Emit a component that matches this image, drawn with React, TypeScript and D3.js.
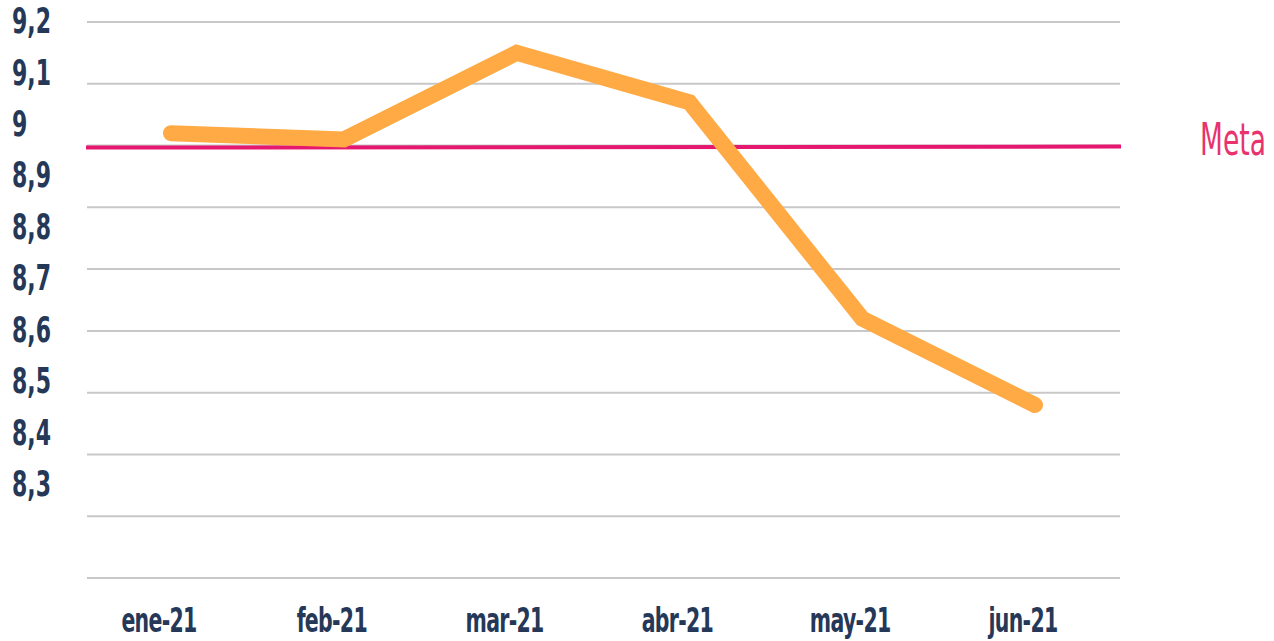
import React from "react"
import * as d3 from "d3"

// months on the x axis
const months = ["ene-21", "feb-21", "mar-21", "abr-21", "may-21", "jun-21"]
// monthly values
const values = [9.02, 9.01, 9.15, 9.07, 8.72, 8.58]
// target value
const meta = 9.0
// y tick labels, top to bottom
const yTickValues = [9.2, 9.1, 9.0, 8.9, 8.8, 8.7, 8.6, 8.5, 8.4, 8.3]
const yTickLabels = ["9,2", "9,1", "9", "8,9", "8,8", "8,7", "8,6", "8,5", "8,4", "8,3"]

const W = 1274
const H = 641
const font = "'DejaVu Sans Condensed', 'DejaVu Sans', sans-serif"
const ink = "#253858"

// condensed look: squeeze text horizontally around its anchor
const squeeze = (x: number, y: number, s: number) => `translate(${x},${y}) scale(${s},1)`

const App = () => {
  const x = d3.scalePoint<string>().domain(months).range([171, 1035])
  const y = d3.scaleLinear().domain([8.3, 9.2]).range([578, 22])
  // the labels in the original sit on their own, tighter spacing
  const yLab = d3.scaleLinear().domain([8.3, 9.2]).range([484, 21])

  const line = d3
    .line<number>()
    .x((d, i) => x(months[i]) as number)
    .y((d) => y(d))

  return (
    <svg
      width={W}
      height={H}
      style={{ position: "absolute", left: 0, top: 0, display: "block", background: "#fff" }}
    >
      {/* grid */}
      {yTickValues.map((v) => (
        <line key={v} x1={87} x2={1120} y1={y(v)} y2={y(v)} stroke="#c8c8c8" strokeWidth={2} />
      ))}

      {/* meta line */}
      <line x1={86} x2={1121} y1={y(meta) + 2} y2={y(meta) + 1} stroke="#e5176f" strokeWidth={4} />
      <text
        transform={squeeze(1233, 155, 0.67)}
        textAnchor="middle"
        fontFamily={font}
        fontSize={44}
        fill="#e8336f"
      >
        Meta
      </text>

      {/* series */}
      <path
        d={line(values) || ""}
        fill="none"
        stroke="#ffaa44"
        strokeWidth={16}
        strokeLinecap="round"
        strokeLinejoin="miter"
      />

      {/* y labels */}
      {yTickValues.map((v, i) => (
        <text
          key={v}
          transform={squeeze(12, yLab(v), 0.7)}
          dominantBaseline="central"
          fontFamily={font}
          fontWeight="bold"
          fontSize={35}
          fill={ink}
        >
          {yTickLabels[i]}
        </text>
      ))}

      {/* x labels */}
      {months.map((m) => (
        <text
          key={m}
          transform={squeeze((x(m) as number) - 12, 632, 0.69)}
          textAnchor="middle"
          fontFamily={font}
          fontWeight="bold"
          fontSize={33}
          fill={ink}
          letterSpacing={-1}
        >
          {m}
        </text>
      ))}
    </svg>
  )
}

export default App
